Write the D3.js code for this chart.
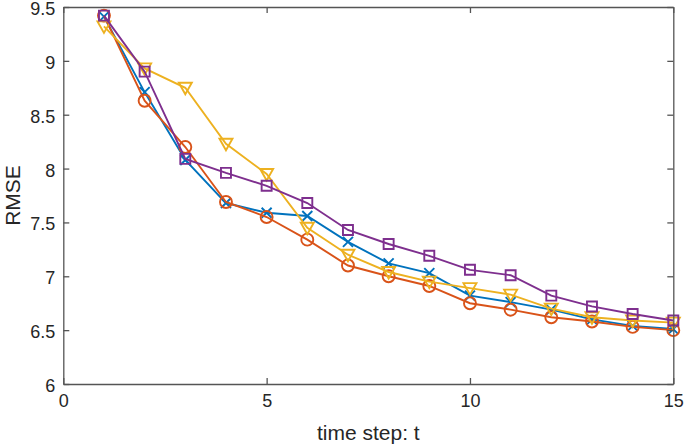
<!DOCTYPE html>
<html>
<head>
<meta charset="utf-8">
<script src="https://cdn.jsdelivr.net/npm/d3@7"></script>
<style>
  body { margin: 0; background: #fff; }
  svg text { font-family: "Liberation Sans", Arial, sans-serif; fill: #262626; }
</style>
</head>
<body>
<div id="chart"></div>
<script>
// values
var steps = [1, 2, 3, 4, 5, 6, 7, 8, 9, 10, 11, 12, 13, 14, 15];
var blueX = [9.41, 8.71, 8.08, 7.68, 7.59, 7.56, 7.32, 7.12, 7.03, 6.82, 6.76, 6.69, 6.60, 6.54, 6.51];
var orangeO = [9.42, 8.63, 8.20, 7.69, 7.55, 7.34, 7.10, 7.00, 6.91, 6.75, 6.69, 6.62, 6.58, 6.53, 6.50];
var yellowV = [9.32, 8.93, 8.75, 8.23, 7.95, 7.45, 7.20, 7.04, 6.95, 6.89, 6.83, 6.70, 6.62, 6.59, 6.57];
var purpleS = [9.42, 8.90, 8.09, 7.96, 7.84, 7.68, 7.43, 7.30, 7.19, 7.06, 7.01, 6.82, 6.72, 6.65, 6.59];
var xTicks = [0, 5, 10, 15];
var yTicks = [6, 6.5, 7, 7.5, 8, 8.5, 9, 9.5];

var series = [
    {values: blueX, color: '#0072BD', marker: 'x'},
    {values: orangeO, color: '#D95319', marker: 'o'},
    {values: yellowV, color: '#EDB120', marker: 'v'},
    {values: purpleS, color: '#7E2F8E', marker: 's'}
];

var W = 685, H = 445;
var margin = {top: 7, right: 11.7, bottom: 61, left: 63.3};
var w = W - margin.left - margin.right, h = H - margin.top - margin.bottom;

var svg = d3.select('#chart').append('svg')
    .attr('width', W).attr('height', H);
var g = svg.append('g').attr('transform', 'translate(' + margin.left + ',' + margin.top + ')');

var x = d3.scaleLinear().domain([0, 15]).range([0, w]);
var y = d3.scaleLinear().domain([6, 9.5]).range([h, 0]);

function markerPath(type){
    switch(type){
        case 'o': return 'M6,0A6,6 0 1,1 -6,0A6,6 0 1,1 6,0Z';
        case 's': return 'M-5,-5H5V5H-5Z';
        case 'v': return 'M-6.5,-5H6.5L0,6.5Z';
        case 'x': return 'M-5,-5L5,5M-5,5L5,-5';
    }
}

var line = d3.line()
    .x(function(d, i){ return x(steps[i]); })
    .y(function(d){ return y(d); });

series.forEach(function(s){
    var sg = g.append('g');
    sg.append('path')
        .attr('d', line(s.values))
        .attr('fill', 'none')
        .attr('stroke', s.color)
        .attr('stroke-width', 1.9);
    sg.selectAll('path.mk')
        .data(s.values).enter()
        .append('path')
        .attr('class', 'mk')
        .attr('transform', function(d, i){ return 'translate(' + x(steps[i]) + ',' + y(d) + ')'; })
        .attr('d', markerPath(s.marker))
        .attr('fill', 'none')
        .attr('stroke', s.color)
        .attr('stroke-width', 1.9);
});

// axes box, MATLAB style ticks pointing in
var axisColor = '#555';
function styleAxis(sel){
    sel.select('.domain').attr('stroke', axisColor).attr('stroke-width', 1.3);
    sel.selectAll('.tick line').attr('stroke', axisColor).attr('stroke-width', 1.3);
    sel.selectAll('.tick text').attr('font-size', '18px').attr('fill', '#262626');
}

g.append('g').attr('transform', 'translate(0,' + h + ')')
    .call(d3.axisBottom(x).tickValues(xTicks).tickSizeInner(-6).tickSizeOuter(0).tickPadding(10))
    .call(styleAxis);
g.append('g')
    .call(d3.axisLeft(y).tickValues(yTicks).tickFormat(d3.format('')).tickSizeInner(-6).tickSizeOuter(0).tickPadding(8))
    .call(styleAxis)
    .selectAll('.tick text').attr('dy', '0.42em');
g.append('g')
    .call(d3.axisTop(x).tickValues(xTicks).tickFormat('').tickSizeInner(-6).tickSizeOuter(0))
    .call(styleAxis);
g.append('g').attr('transform', 'translate(' + w + ',0)')
    .call(d3.axisRight(y).tickValues(yTicks).tickFormat('').tickSizeInner(-6).tickSizeOuter(0))
    .call(styleAxis);

g.selectAll('.tick text').attr('font-family', '"Liberation Sans", Arial, sans-serif');

svg.append('text')
    .attr('x', margin.left + w / 2).attr('y', 440)
    .attr('text-anchor', 'middle')
    .attr('font-size', '21px')
    .text('time step: t');

svg.append('text')
    .attr('transform', 'translate(20,' + (margin.top + h / 2) + ') rotate(-90)')
    .attr('text-anchor', 'middle')
    .attr('font-size', '21px')
    .text('RMSE');
</script>
</body>
</html>
